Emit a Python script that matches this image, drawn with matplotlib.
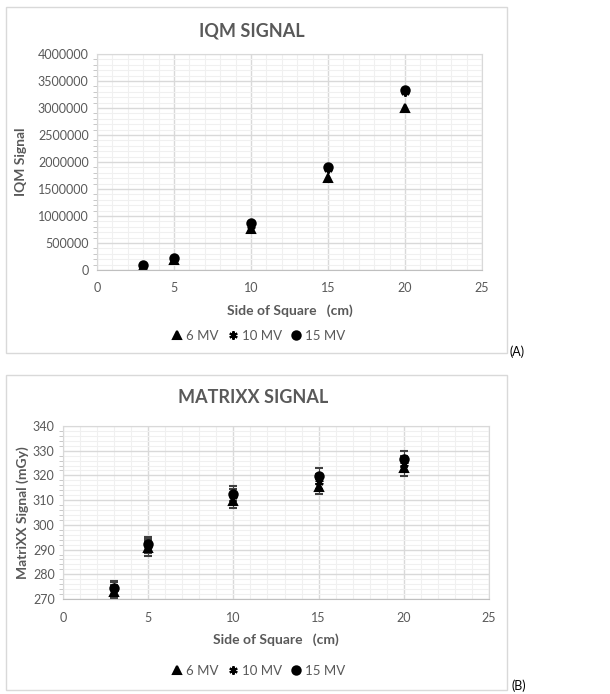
import matplotlib
matplotlib.use("Agg")
import matplotlib.pyplot as plt
from matplotlib.patches import Rectangle
from matplotlib.ticker import MultipleLocator, FuncFormatter

plt.rcParams['font.family'] = ['Lato', 'DejaVu Sans']

# data
sides = [3, 5, 10, 15, 20]
labels = ['6 MV', '10 MV', '15 MV']
iqm_6 = [60000, 190000, 760000, 1700000, 3000000]
iqm_10 = [80000, 210000, 820000, 1870000, 3290000]
iqm_15 = [95000, 230000, 870000, 1910000, 3330000]
mx_6 = [273.0, 290.5, 309.8, 315.5, 323.0]
mx_10 = [274.0, 291.5, 311.5, 317.5, 324.5]
mx_15 = [274.5, 292.3, 312.6, 319.8, 326.7]
mx_err_frac = 0.01

W, H = 610, 694
fig = plt.figure(figsize=(W / 100, H / 100), dpi=100)
txt = '#595959'
markers = ['^', (6, 2, 0), 'o']
msizes = [5.5, 6, 6]


def frame(x0, y0, x1, y1):
    fig.patches.append(Rectangle((x0 / W, 1 - y1 / H), (x1 - x0) / W, (y1 - y0) / H,
                                 transform=fig.transFigure, fill=False,
                                 edgecolor='#d9d9d9', lw=1))


def box(l, t, r, b):
    return fig.add_axes([l / W, 1 - b / H, (r - l) / W, (b - t) / H])


def style(ax, ymin, ymax, ymaj, ymin_step):
    ax.set_xlim(0, 25)
    ax.set_ylim(ymin, ymax)
    ax.xaxis.set_major_locator(MultipleLocator(5))
    ax.xaxis.set_minor_locator(MultipleLocator(1))
    ax.yaxis.set_major_locator(MultipleLocator(ymaj))
    ax.yaxis.set_minor_locator(MultipleLocator(ymin_step))
    ax.grid(which='major', color='#d9d9d9', lw=1)
    ax.grid(which='minor', color='#f0f0f0', lw=0.8)
    ax.set_axisbelow(True)
    for s in ax.spines.values():
        s.set_color('#d9d9d9')
    ax.spines['bottom'].set_color('#bfbfbf')
    ax.tick_params(axis='x', which='both', length=0, colors=txt, labelsize=9, pad=9)
    ax.tick_params(axis='y', which='major', length=0, colors=txt, labelsize=9, pad=6)
    ax.tick_params(axis='y', which='minor', length=3, color='#bfbfbf')


def legend(ax, handles, y):
    ax.legend(handles, labels, loc='center', bbox_to_anchor=(258 / W, 1 - y / H),
              bbox_transform=fig.transFigure, ncol=3, frameon=False,
              fontsize=9.5, labelcolor=txt, handletextpad=0.15, columnspacing=0.6,
              handlelength=1.0)


# ---- panel A
frame(6, 7, 507, 353)
ax1 = box(97, 54, 482, 270)
style(ax1, 0, 4000000, 500000, 100000)
ax1.yaxis.set_major_formatter(FuncFormatter(lambda v, p: '%d' % v))
hs = []
for ys, lab, m, ms in zip([iqm_6, iqm_10, iqm_15], labels, markers, msizes):
    hs += ax1.plot(sides, ys, ls='none', marker=m, ms=ms, color='black', mew=1.5, label=lab)
fig.text(252 / W, 1 - 31 / H, 'IQM SIGNAL', fontsize=13, fontweight='bold', color=txt,
         ha='center', va='center')
ax1.set_xlabel('Side of Square   (cm)', fontsize=10, fontweight='bold', color=txt, labelpad=7)
ax1.set_ylabel('IQM Signal', fontsize=10, fontweight='bold', color=txt)
ax1.yaxis.set_label_coords((27 - 97) / 385, 0.5)
legend(ax1, hs, 336)
fig.text(510 / W, 1 - 352 / H, '(A)', fontsize=9, va='center', ha='left', color='black')

# ---- panel B
frame(6, 375, 507, 690)
ax2 = box(63, 426, 489, 599)
style(ax2, 270, 340, 10, 2)
hs = []
for ys, lab, m, ms in zip([mx_6, mx_10, mx_15], labels, markers, msizes):
    err = [v * mx_err_frac for v in ys]
    c = ax2.errorbar(sides, ys, yerr=err, ls='none', marker=m, ms=ms, color='black',
                     mew=1.5, ecolor='#404040', elinewidth=0.8, capsize=3, label=lab)
    hs.append(c[0])
fig.text(253 / W, 1 - 398 / H, 'MATRIXX SIGNAL', fontsize=13, fontweight='bold', color=txt,
         ha='center', va='center')
ax2.set_xlabel('Side of Square   (cm)', fontsize=10, fontweight='bold', color=txt, labelpad=7)
ax2.set_ylabel('MatriXX Signal (mGy)', fontsize=10, fontweight='bold', color=txt)
ax2.yaxis.set_label_coords((29 - 63) / 426, 0.5)
legend(ax2, hs, 671)
fig.text(511 / W, 1 - 686 / H, '(B)', fontsize=9, va='center', ha='left', color='black')

fig.savefig('out.png', dpi=100, facecolor='white')
